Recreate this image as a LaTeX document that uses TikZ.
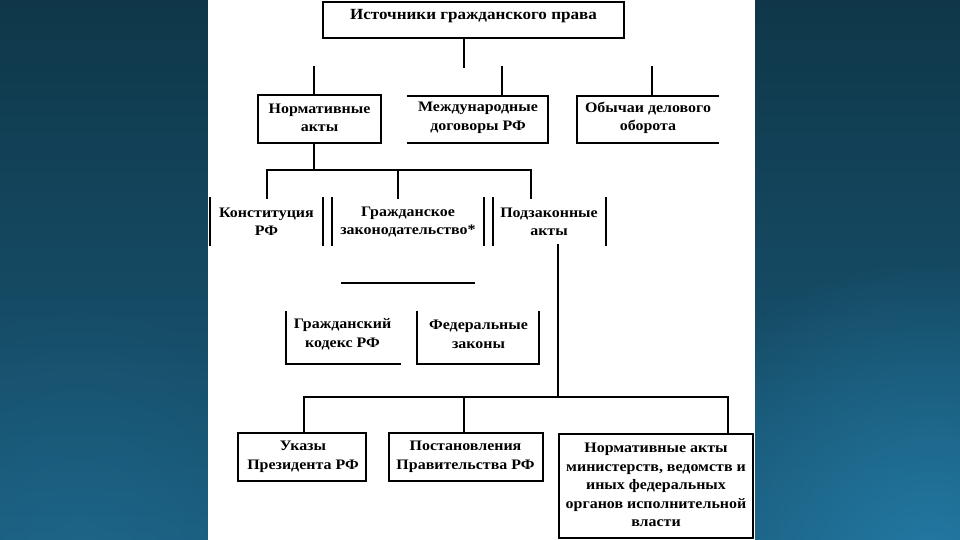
\documentclass[tikz,border=0pt]{standalone}
\usepackage{fontspec}
\setmainfont[FakeStretch=1.1]{Liberation Serif}
\usetikzlibrary{fadings}
\definecolor{bgtop}{HTML}{0F3749}
\definecolor{bgbot}{HTML}{1A5A7A}
\definecolor{glow}{HTML}{2580AC}
\tikzfading[name=softglow,inner color=transparent!0,outer color=transparent!100]
\begin{document}
\begin{tikzpicture}[x=1pt,y=-1pt,
  box/.style={draw=none,inner sep=0pt,outer sep=0pt},
  txt/.style={font=\bfseries\fontsize{14.5}{18.5}\selectfont,align=center,inner sep=0pt},
  title/.style={txt,font=\bfseries\fontsize{15.5}{18.5}\selectfont},
  edge/.style={line width=1.3pt,black,line cap=rect}]
\useasboundingbox (0,0) rectangle (960,540);
% background
\shade[top color=bgtop,bottom color=bgbot] (0,0) rectangle (960,540);
\fill[glow,opacity=.8,path fading=softglow] (930,560) circle (300);
\fill[glow,opacity=.3,path fading=softglow] (80,560) circle (260);
\fill[white] (208,0) rectangle (755,540);

% boxes
\node[box,minimum width=301,minimum height=36] (src) at (473.5,20) {};
\node[title] (srct) at (473.5,16.5) {Источники гражданского права};
\draw[edge] (src.north west) rectangle (src.south east);

\node[box,minimum width=123,minimum height=48] (norm) at (319.5,119) {};
\node[txt] (normt) at (319.5,118) {Нормативные\\акты};
\draw[edge] (norm.north west) rectangle (norm.south east);

\node[box,minimum width=140,minimum height=47] (intl) at (478,119.5) {};
\node[txt] (intlt) at (478,118) {Международные\\договоры РФ};
\draw[edge] (intl.north west) -- (intl.north east) -- (intl.south east) -- (intl.south west);

\node[box,minimum width=141,minimum height=47] (cust) at (647.5,119.5) {};
\node[txt] (custt) at (648,118) {Обычаи делового\\оборота};
\draw[edge] (cust.north east) -- (cust.north west) -- (cust.south west) -- (cust.south east);

\node[box,minimum width=113,minimum height=47] (const) at (266.5,221.5) {};
\node[txt] (constt) at (266.5,222) {Конституция\\РФ};
\draw[edge] (const.north west) -- (const.south west) (const.north east) -- (const.south east);

\node[box,minimum width=152,minimum height=47] (civ) at (408,221.5) {};
\node[txt] (civt) at (408,222) {Гражданское\\законодательство*};
\draw[edge] (civ.north west) -- (civ.south west) (civ.north east) -- (civ.south east);

\node[box,minimum width=113,minimum height=47] (sub) at (549.5,221.5) {};
\node[txt] (subt) at (549,222) {Подзаконные\\акты};
\draw[edge] (sub.north west) -- (sub.south west) (sub.north east) -- (sub.south east);

\node[box,minimum width=114,minimum height=52] (gk) at (343,338) {};
\node[txt] (gkt) at (342.5,334.5) {Гражданский\\кодекс РФ};
\draw[edge] (gk.north west) -- (gk.south west) -- (gk.south east);

\node[box,minimum width=122,minimum height=52] (fz) at (478,338) {};
\node[txt] (fzt) at (478.5,334.5) {Федеральные\\законы};
\draw[edge] (fz.north west) -- (fz.south west) -- (fz.south east) -- (fz.north east);

\node[box,minimum width=128,minimum height=48] (ukaz) at (302,457) {};
\node[txt] (ukazt) at (303,457) {Указы\\Президента РФ};
\draw[edge] (ukaz.north west) rectangle (ukaz.south east);

\node[box,minimum width=154,minimum height=48] (post) at (466,457) {};
\node[txt] (postt) at (465.5,457) {Постановления\\Правительства РФ};
\draw[edge] (post.north west) rectangle (post.south east);

\node[box,minimum width=194,minimum height=104] (min) at (656,486) {};
\node[txt] (mint) at (656,485) {Нормативные акты\\министерств, ведомств и\\иных федеральных\\органов исполнительной\\власти};
\draw[edge] (min.north west) rectangle (min.south east);

% connectors
\coordinate (a0) at (464,67);
\draw[edge] (a0 |- src.south) -- (a0);
\coordinate (a1) at (314,67);
\coordinate (a2) at (502,67);
\coordinate (a3) at (652,67);
\draw[edge] (a1) -- (a1 |- norm.north);
\draw[edge] (a2) -- (a2 |- intl.north);
\draw[edge] (a3) -- (a3 |- cust.north);

\coordinate (b0) at (314,170);
\coordinate (b1) at (267,170);
\coordinate (b2) at (398,170);
\coordinate (b3) at (531,170);
\draw[edge] (b0 |- norm.south) -- (b0);
\draw[edge] (b1) -- (b3);
\draw[edge] (b1) -- (b1 |- const.north);
\draw[edge] (b2) -- (b2 |- civ.north);
\draw[edge] (b3) -- (b3 |- sub.north);

\coordinate (l1) at (342,283);
\coordinate (l2) at (474,283);
\draw[edge] (l1) -- (l2);

\coordinate (c0) at (558,397);
\coordinate (c1) at (304,397);
\coordinate (c2) at (464,397);
\coordinate (c3) at (728,397);
\draw[edge] (c0 |- sub.south) -- (c0);
\draw[edge] (c1) -- (c3);
\draw[edge] (c1) -- (c1 |- ukaz.north);
\draw[edge] (c2) -- (c2 |- post.north);
\draw[edge] (c3) -- (c3 |- min.north);
\end{tikzpicture}
\end{document}
